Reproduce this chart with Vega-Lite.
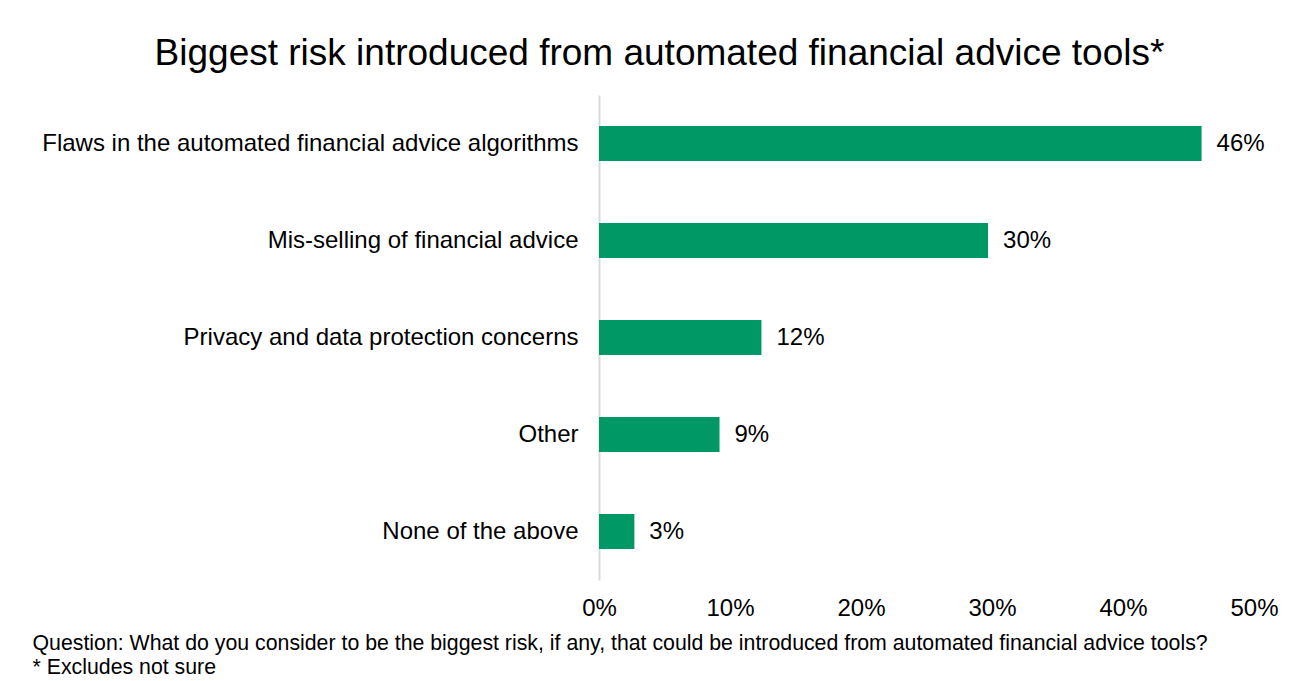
{
  "$schema": "https://vega.github.io/schema/vega-lite/v6.json",
  "autosize": "none",
  "width": 655,
  "height": 485,
  "padding": {"left": 599, "top": 95, "right": 54, "bottom": 101},
  "background": "white",
  "data": {"values": [
    {"risk": "Flaws in the automated financial advice algorithms", "share": 0.46},
    {"risk": "Mis-selling of financial advice", "share": 0.297},
    {"risk": "Privacy and data protection concerns", "share": 0.124},
    {"risk": "Other", "share": 0.092},
    {"risk": "None of the above", "share": 0.027}
  ]},
  "title": {
    "text": "Biggest risk introduced from automated financial advice tools*",
    "font": "Liberation Sans",
    "fontSize": 37,
    "fontWeight": "normal",
    "color": "#000000",
    "anchor": "middle",
    "frame": "group",
    "dx": -267,
    "offset": 22
  },
  "config": {
    "view": {"stroke": null},
    "font": "Liberation Sans"
  },
  "encoding": {
    "y": {
      "field": "risk",
      "type": "nominal",
      "sort": null,
      "scale": {"paddingInner": 0.64, "paddingOuter": 0.32},
      "axis": {
        "title": null,
        "ticks": false,
        "domainColor": "#d9d9d9",
        "domainWidth": 2,
        "labelFont": "Liberation Sans",
        "labelFontSize": 24,
        "labelColor": "#000000",
        "labelPadding": 21,
        "labelLimit": 700
      }
    },
    "x": {
      "field": "share",
      "type": "quantitative",
      "scale": {"domain": [0, 0.5], "nice": false},
      "axis": {
        "format": ".0%",
        "values": [0, 0.1, 0.2, 0.3, 0.4, 0.5],
        "grid": false,
        "domain": false,
        "ticks": false,
        "labelFlush": false,
        "labelFont": "Liberation Sans",
        "labelFontSize": 24,
        "labelColor": "#000000",
        "labelPadding": 16,
        "title": ["Question: What do you consider to be the biggest risk, if any, that could be introduced from automated financial advice tools?", "* Excludes not sure"],
        "titleFont": "Liberation Sans",
        "titleFontSize": 21.3,
        "titleFontWeight": "normal",
        "titleColor": "#000000",
        "titleAnchor": "start",
        "titleAlign": "left",
        "titleX": -567,
        "titleY": 52,
        "titleLineHeight": 24,
        "titleBaseline": "top"
      }
    }
  },
  "layer": [
    {"mark": {"type": "bar", "color": "#009966"}},
    {
      "mark": {"type": "text", "align": "left", "baseline": "middle", "dx": 15, "fontSize": 24, "font": "Liberation Sans", "color": "#000000"},
      "encoding": {"text": {"field": "share", "type": "quantitative", "format": ".0%"}}
    }
  ]
}
